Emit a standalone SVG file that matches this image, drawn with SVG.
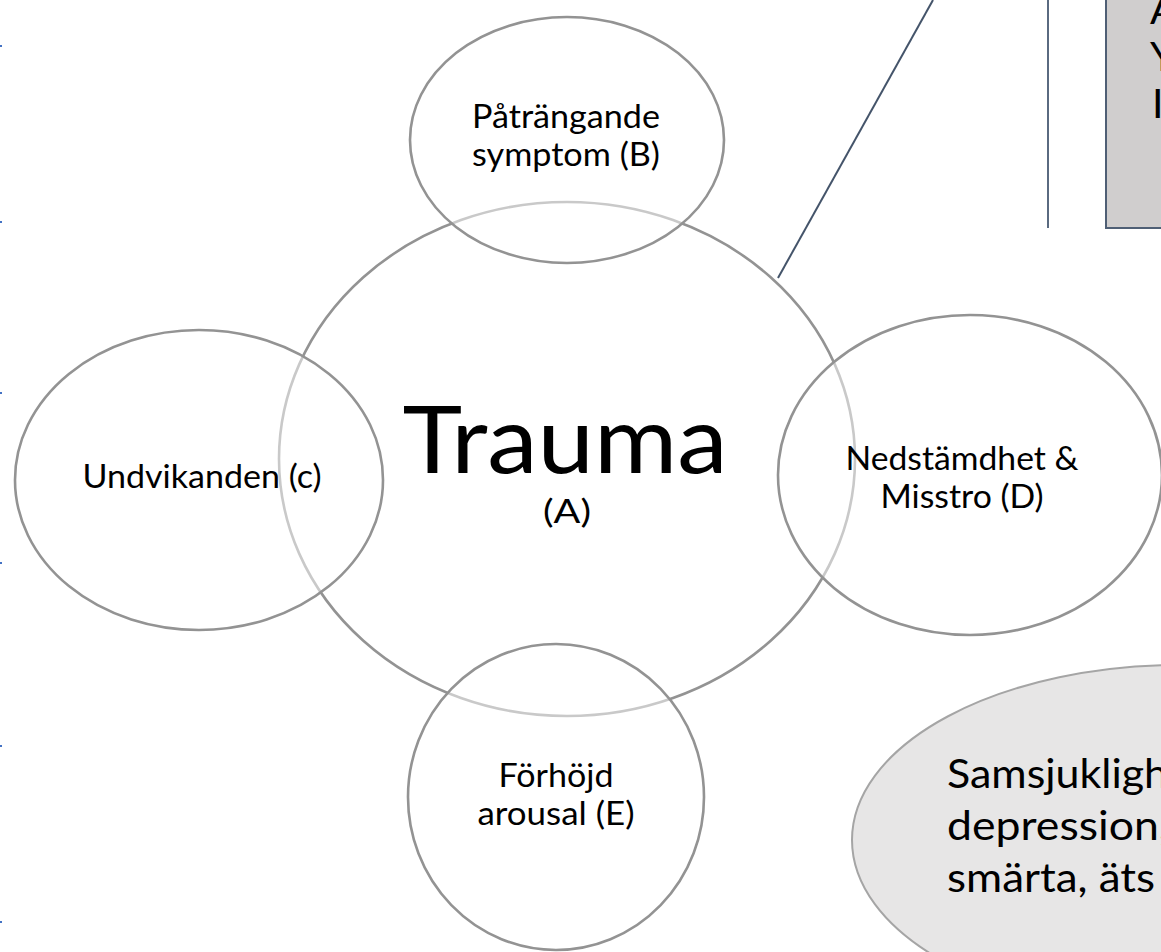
<svg xmlns="http://www.w3.org/2000/svg" width="1161" height="952" viewBox="0 0 1161 952">
  <style>
    .ring { fill: none; stroke: #939393; stroke-width: 2.6; }
    .petal { fill: #ffffff; fill-opacity: 0.5; stroke: #939393; stroke-width: 2.6; }
    .lbl { font-family: Lato, "Open Sans", sans-serif; font-size: 32px; fill: #000000; text-anchor: middle; }
    .big { font-family: Lato, "Open Sans", sans-serif; font-size: 94px; fill: #000000; text-anchor: middle; }
    .side { font-family: Lato, "Open Sans", sans-serif; font-size: 41px; fill: #000000; }
    .tick { fill: #4472c4; }
    .link { stroke: #44546a; stroke-width: 2; fill: none; }
  </style>

  <rect width="1161" height="952" fill="#ffffff"/>

  <!-- page margin ticks -->
  <g id="margin-ticks">
    <rect class="tick" x="0" y="45" width="2" height="2"/>
    <rect class="tick" x="0" y="221" width="2" height="2"/>
    <rect class="tick" x="0" y="392" width="2" height="2"/>
    <rect class="tick" x="0" y="562" width="2" height="2"/>
    <rect class="tick" x="0" y="745" width="2" height="2"/>
    <rect class="tick" x="0" y="921" width="2" height="2"/>
  </g>

  <!-- central node -->
  <g id="trauma">
    <ellipse class="ring" cx="567" cy="459" rx="288" ry="257"/>
    <text class="big" x="565" y="473" textLength="325" lengthAdjust="spacingAndGlyphs">Trauma</text>
    <text class="lbl" x="567" y="523" textLength="48" lengthAdjust="spacingAndGlyphs">(A)</text>
  </g>

  <!-- satellite nodes -->
  <g id="node-b">
    <ellipse class="petal" cx="567" cy="140" rx="157" ry="123"/>
    <text class="lbl" x="566" y="128" textLength="188" lengthAdjust="spacingAndGlyphs">Påträngande</text>
    <text class="lbl" x="566" y="166" textLength="188" lengthAdjust="spacingAndGlyphs">symptom (B)</text>
  </g>

  <g id="node-c">
    <ellipse class="petal" cx="199" cy="480" rx="184" ry="150"/>
    <text class="lbl" x="202" y="488" textLength="239" lengthAdjust="spacingAndGlyphs">Undvikanden (c)</text>
  </g>

  <g id="node-d">
    <ellipse class="petal" cx="970" cy="475" rx="192" ry="160"/>
    <text class="lbl" x="962" y="470" textLength="233" lengthAdjust="spacingAndGlyphs">Nedstämdhet &amp;</text>
    <text class="lbl" x="962" y="508" textLength="163" lengthAdjust="spacingAndGlyphs">Misstro (D)</text>
  </g>

  <g id="node-e">
    <ellipse class="petal" cx="556" cy="797" rx="148" ry="153"/>
    <text class="lbl" x="556" y="787" textLength="115" lengthAdjust="spacingAndGlyphs">Förhöjd</text>
    <text class="lbl" x="556" y="825" textLength="157" lengthAdjust="spacingAndGlyphs">arousal (E)</text>
  </g>

  <!-- callout connector and callout box -->
  <g id="connectors">
    <line class="link" x1="778" y1="278" x2="933" y2="0"/>
    <line x1="1048" y1="0" x2="1048" y2="228" stroke="#5a6a80" stroke-width="2"/>
  </g>

  <g id="callout-box">
    <rect x="1106" y="-4" width="70" height="232" fill="#d0cece" stroke="#4f5f75" stroke-width="2"/>
    <text class="side" x="1150" y="24">A</text>
    <text class="side" x="1150" y="71">Y</text>
    <text class="side" x="1152" y="118">I</text>
  </g>

  <!-- comorbidity note -->
  <g id="comorbidity">
    <ellipse cx="1180" cy="840" rx="328" ry="175" fill="#e7e6e6" stroke="#a5a5a5" stroke-width="2"/>
    <text class="side" x="947" y="788" textLength="259" lengthAdjust="spacingAndGlyphs">Samsjuklighet</text>
    <text class="side" x="947" y="840" textLength="222" lengthAdjust="spacingAndGlyphs">depression,</text>
    <text class="side" x="947" y="892" textLength="208" lengthAdjust="spacingAndGlyphs">smärta, äts</text>
  </g>
</svg>
